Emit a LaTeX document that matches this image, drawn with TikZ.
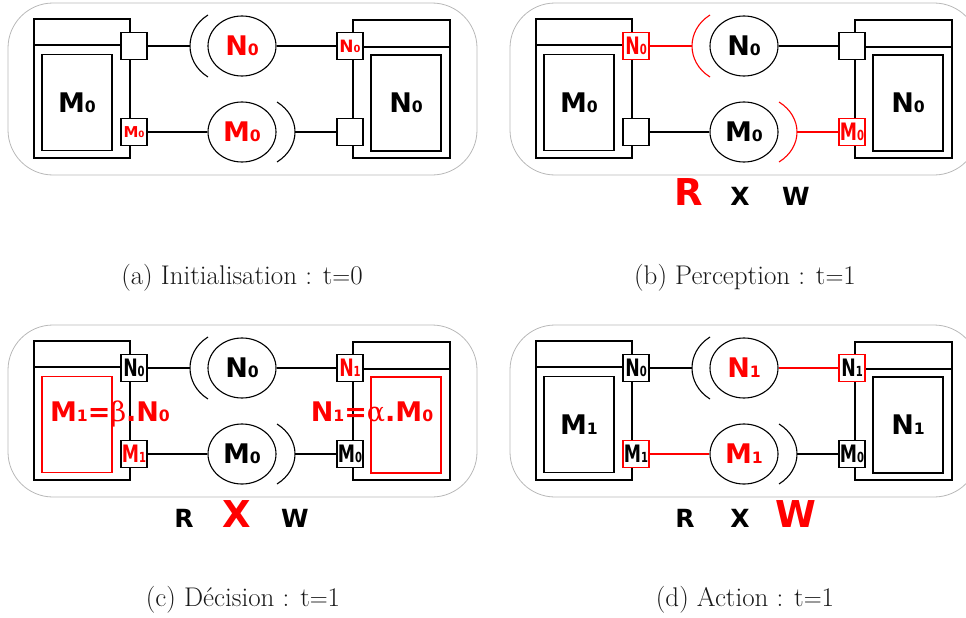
\documentclass[tikz,border=0pt]{standalone}
\usepackage{fontspec}
\setsansfont{DejaVu Sans}
\newfontfamily\grkfont{DejaVu Serif}
\usetikzlibrary{shapes.geometric}
\newcommand\pxsize[1]{\fontsize{#1}{#1}\selectfont}
\newcommand\low[1]{\scalebox{0.58}{#1}}
\newcommand\narrow[1]{\scalebox{0.72}[1]{#1}}

\begin{document}
\begin{tikzpicture}[x=1pt, y=-1pt,
  frame/.style={draw=black!28, line width=0.8pt, rounded corners=45pt},
  agent/.style={draw, line width=1.3pt},
  mem/.style={draw, line width=1.3pt, minimum width=70pt, minimum height=96pt, inner sep=0pt, font=\sffamily\bfseries\pxsize{27}},
  port/.style={draw, fill=white, line width=1.1pt, minimum width=26pt, minimum height=27pt, inner sep=0pt, font=\sffamily\bfseries\pxsize{24}},
  link/.style={draw, ellipse, line width=1.1pt, minimum width=68pt, minimum height=60pt, inner sep=0pt, font=\sffamily\bfseries\pxsize{27}},
  wire/.style={line width=1.1pt},
  rxw/.style={anchor=base, font=\sffamily\bfseries\pxsize{25}},
  hot/.style={anchor=base, text=red, font=\sffamily\bfseries\pxsize{37}},
  caption/.style={text=black!90, font=\pxsize{27}}]
  \useasboundingbox (0,0) rectangle (966,618);

  % (a) initialisation
  \begin{scope}
    \draw[frame] (8,3) rectangle (477,175);
    \draw[agent] (34,19) rectangle (130,158) (34,45) -- (130,45);
    \draw[agent] (353,20) rectangle (450,158) (353,47) -- (450,47);
    \node[mem] (aM) at (77,102.5) {M\low{0}};
    \node[mem] (aN) at (406,103) {N\low{0}};
    \node[port] (aP1) at (134,46) {};
    \node[port, text=red, font=\sffamily\bfseries\pxsize{15}] (aP2) at (134,132) {M\low{0}};
    \node[port, text=red, font=\sffamily\bfseries\pxsize{17}] (aQ1) at (350,46) {N\low{0}};
    \node[port] (aQ2) at (350,132) {};
    \node[link, text=red] (aE1) at (242,46) {N\low{0}};
    \node[link, text=red] (aE2) at (242,132) {M\low{0}};
    \coordinate (aC1) at (190,46);
    \coordinate (aC2) at (295,132);
    \draw[wire] (208,15) .. controls (184,30) and (184,62) .. (208,77);
    \draw[wire] (277,102) .. controls (301,117) and (301,147) .. (277,162);
    \draw[wire] (aP1) -- (aC1);
    \draw[wire] (aE1) -- (aQ1);
    \draw[wire] (aP2) -- (aE2);
    \draw[wire] (aC2) -- (aQ2);
    \node[caption] (aT) at (242,278) {(a) Initialisation : t$=$0};
  \end{scope}

  % (b) perception
  \begin{scope}[shift={(502,0)}]
    \draw[frame] (8,3) rectangle (477,175);
    \draw[agent] (34,19) rectangle (130,158) (34,45) -- (130,45);
    \draw[agent] (353,20) rectangle (450,158) (353,47) -- (450,47);
    \node[mem] (bM) at (77,102.5) {M\low{0}};
    \node[mem] (bN) at (406,103) {N\low{0}};
    \node[port, draw=red, text=red] (bP1) at (134,46) {\narrow{N\low{0}}};
    \node[port] (bP2) at (134,132) {};
    \node[port] (bQ1) at (350,46) {};
    \node[port, draw=red, text=red] (bQ2) at (350,132) {\narrow{M\low{0}}};
    \node[link] (bE1) at (242,46) {N\low{0}};
    \node[link] (bE2) at (242,132) {M\low{0}};
    \coordinate (bC1) at (190,46);
    \coordinate (bC2) at (295,132);
    \draw[wire, red] (208,15) .. controls (184,30) and (184,62) .. (208,77);
    \draw[wire, red] (277,102) .. controls (301,117) and (301,147) .. (277,162);
    \draw[wire, red] (bP1) -- (bC1);
    \draw[wire] (bE1) -- (bQ1);
    \draw[wire] (bP2) -- (bE2);
    \draw[wire, red] (bC2) -- (bQ2);
    \node[hot] (bR) at (187,205) {R};
    \node[rxw] (bX) at (238,205) {X};
    \node[rxw] (bW) at (294,205) {W};
    \node[caption] (bT) at (243,278) {(b) Perception : t$=$1};
  \end{scope}

  % (c) decision
  \begin{scope}[shift={(0,322)}]
    \draw[frame] (8,3) rectangle (477,175);
    \draw[agent] (34,19) rectangle (130,158) (34,45) -- (130,45);
    \draw[agent] (353,20) rectangle (450,158) (353,47) -- (450,47);
    \node[mem, draw=red] (cM) at (77,102.5) {};
    \node[mem, draw=red] (cN) at (406,103) {};
    \node[port] (cP1) at (134,46) {\narrow{N\low{0}}};
    \node[port, text=red] (cP2) at (134,132) {\narrow{M\low{1}}};
    \node[port, text=red] (cQ1) at (350,46) {\narrow{N\low{1}}};
    \node[port] (cQ2) at (350,132) {\narrow{M\low{0}}};
    \node[link] (cE1) at (242,46) {N\low{0}};
    \node[link] (cE2) at (242,132) {M\low{0}};
    \coordinate (cC1) at (190,46);
    \coordinate (cC2) at (295,132);
    \draw[wire] (208,15) .. controls (184,30) and (184,62) .. (208,77);
    \draw[wire] (277,102) .. controls (301,117) and (301,147) .. (277,162);
    \draw[wire] (cP1) -- (cC1);
    \draw[wire] (cE1) -- (cQ1);
    \draw[wire] (cP2) -- (cE2);
    \draw[wire] (cC2) -- (cQ2);
    \node[anchor=base, text=red, font=\sffamily\bfseries\pxsize{27}] (cMf) at (110,99) {M\low{1}={\grkfont\mdseries β}.N\low{0}};
    \node[anchor=base, text=red, font=\sffamily\bfseries\pxsize{27}] (cNf) at (372,99) {N\low{1}={\grkfont\mdseries α}.M\low{0}};
    \node[rxw] (cR) at (184,205) {R};
    \node[hot] (cX) at (237,205) {X};
    \node[rxw] (cW) at (295,205) {W};
    \node[caption] (cT) at (243,278) {(c) Décision : t$=$1};
  \end{scope}

  % (d) action
  \begin{scope}[shift={(502,322)}]
    \draw[frame] (8,3) rectangle (477,175);
    \draw[agent] (34,19) rectangle (130,158) (34,45) -- (130,45);
    \draw[agent] (353,20) rectangle (450,158) (353,47) -- (450,47);
    \node[mem] (dM) at (77,102.5) {M\low{1}};
    \node[mem] (dN) at (406,103) {N\low{1}};
    \node[port] (dP1) at (134,46) {\narrow{N\low{0}}};
    \node[port, draw=red] (dP2) at (134,132) {\narrow{M\low{1}}};
    \node[port, draw=red] (dQ1) at (350,46) {\narrow{N\low{1}}};
    \node[port] (dQ2) at (350,132) {\narrow{M\low{0}}};
    \node[link, text=red] (dE1) at (242,46) {N\low{1}};
    \node[link, text=red] (dE2) at (242,132) {M\low{1}};
    \coordinate (dC1) at (190,46);
    \coordinate (dC2) at (295,132);
    \draw[wire] (208,15) .. controls (184,30) and (184,62) .. (208,77);
    \draw[wire] (277,102) .. controls (301,117) and (301,147) .. (277,162);
    \draw[wire] (dP1) -- (dC1);
    \draw[wire, red] (dE1) -- (dQ1);
    \draw[wire, red] (dP2) -- (dE2);
    \draw[wire] (dC2) -- (dQ2);
    \node[rxw] (dR) at (183,205) {R};
    \node[rxw] (dX) at (238,205) {X};
    \node[hot] (dW) at (294,205) {W};
    \node[caption] (dT) at (243,278) {(d) Action : t$=$1};
  \end{scope}
\end{tikzpicture}
\end{document}
